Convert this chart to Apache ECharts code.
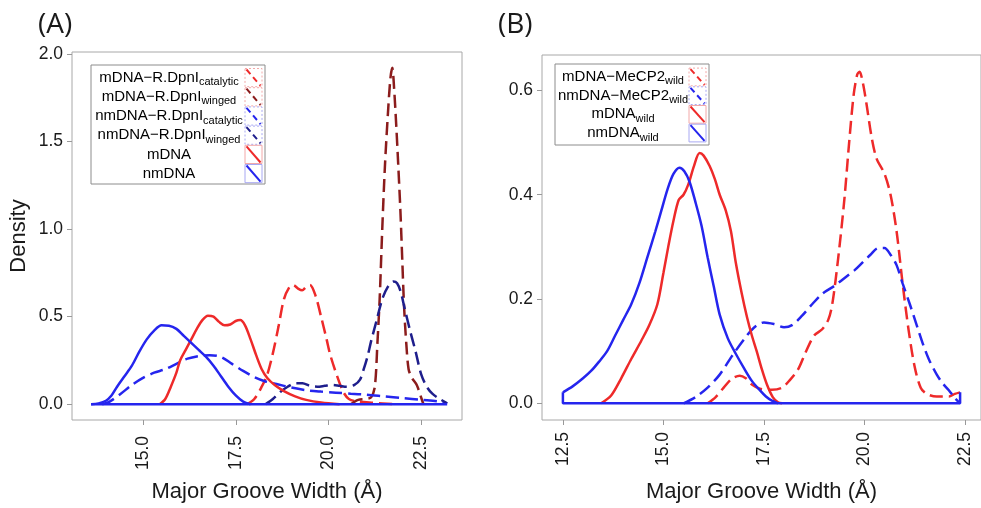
<!DOCTYPE html>
<html>
<head>
<meta charset="utf-8">
<title>Major groove width density</title>
<script src="https://cdn.jsdelivr.net/npm/echarts@6/dist/echarts.min.js"></script>
<style>
  html, body { margin: 0; padding: 0; background: #fff; }
  #chart { width: 981px; height: 508px; }
</style>
</head>
<body>
<div id="chart"></div>
<script>
// ---- panel A: DNA alone vs. R.DpnI complexes (x = groove width, y = density)
const aMdnaCat = [[17.8,0],[18.0,0.03],[18.2,0.1],[18.35,0.17],[18.5,0.29],[18.65,0.44],[18.8,0.6],[18.95,0.67],[19.05,0.68],[19.18,0.66],[19.29,0.65],[19.4,0.67],[19.5,0.68],[19.65,0.62],[19.8,0.5],[19.95,0.37],[20.05,0.28],[20.25,0.15],[20.4,0.07],[20.55,0.03],[20.8,0.015],[21.2,0.008],[21.8,0]];
const aMdnaWing = [[20.6,0],[20.8,0.025],[21.0,0.03],[21.15,0.04],[21.25,0.1],[21.32,0.35],[21.38,0.6],[21.45,1.0],[21.52,1.35],[21.6,1.65],[21.67,1.86],[21.72,1.92],[21.77,1.8],[21.83,1.58],[21.88,1.37],[21.94,1.1],[21.99,0.82],[22.04,0.55],[22.1,0.34],[22.16,0.2],[22.25,0.15],[22.38,0.11],[22.48,0.05],[22.56,0]];
const aNmdnaCat = [[13.9,0],[14.1,0.015],[14.4,0.06],[14.7,0.11],[15.0,0.15],[15.3,0.18],[15.6,0.2],[15.9,0.23],[16.2,0.26],[16.5,0.275],[16.8,0.28],[17.1,0.27],[17.4,0.23],[17.7,0.19],[18.0,0.155],[18.3,0.13],[18.6,0.115],[19.0,0.095],[19.4,0.08],[19.8,0.072],[20.2,0.066],[20.6,0.06],[21.0,0.055],[21.5,0.045],[22.0,0.035],[22.5,0.025],[23.0,0.015],[23.2,0.005]];
const aNmdnaWing = [[18.3,0],[18.5,0.03],[18.7,0.07],[18.9,0.1],[19.1,0.12],[19.3,0.12],[19.5,0.105],[19.7,0.1],[19.9,0.105],[20.1,0.11],[20.3,0.105],[20.5,0.1],[20.7,0.11],[20.85,0.14],[20.95,0.2],[21.05,0.27],[21.15,0.36],[21.3,0.48],[21.45,0.6],[21.6,0.67],[21.75,0.7],[21.85,0.69],[21.95,0.64],[22.05,0.55],[22.2,0.42],[22.35,0.3],[22.5,0.17],[22.65,0.1],[22.8,0.06],[23.0,0.03],[23.2,0.005]];
const aMdna = [[15.45,0],[15.6,0.03],[15.75,0.1],[15.9,0.18],[16.0,0.25],[16.15,0.31],[16.3,0.37],[16.45,0.43],[16.6,0.48],[16.75,0.505],[16.9,0.5],[17.05,0.47],[17.2,0.45],[17.35,0.455],[17.5,0.475],[17.62,0.48],[17.75,0.45],[17.9,0.37],[18.05,0.28],[18.2,0.2],[18.35,0.15],[18.55,0.11],[18.8,0.075],[19.1,0.045],[19.4,0.025],[19.8,0.01],[20.3,0]];
const aNmdna = [[13.6,0],[13.8,0.005],[14.0,0.02],[14.15,0.05],[14.3,0.1],[14.5,0.16],[14.7,0.22],[14.9,0.3],[15.1,0.37],[15.3,0.42],[15.5,0.45],[15.7,0.448],[15.9,0.43],[16.1,0.39],[16.3,0.35],[16.5,0.31],[16.7,0.27],[16.9,0.22],[17.1,0.16],[17.3,0.1],[17.5,0.05],[17.7,0.015],[17.9,0]];
const aBase = [[13.6,0],[23.2,0]];

// ---- panel B: DNA alone vs. MeCP2 complexes
const bMdnaMe = [[16.1,0],[16.3,0.012],[16.5,0.03],[16.7,0.047],[16.9,0.053],[17.05,0.048],[17.2,0.036],[17.4,0.028],[17.7,0.026],[17.95,0.03],[18.15,0.045],[18.35,0.065],[18.55,0.1],[18.75,0.13],[18.95,0.142],[19.1,0.16],[19.2,0.19],[19.35,0.28],[19.5,0.39],[19.62,0.5],[19.73,0.59],[19.82,0.63],[19.88,0.636],[19.96,0.615],[20.05,0.575],[20.18,0.51],[20.3,0.47],[20.5,0.44],[20.65,0.4],[20.8,0.33],[20.95,0.23],[21.1,0.14],[21.25,0.07],[21.4,0.03],[21.55,0.018],[21.8,0.013],[22.1,0.013],[22.25,0.018],[22.38,0.021]];
const bNmdnaMe = [[15.5,0],[15.8,0.012],[16.1,0.03],[16.4,0.055],[16.7,0.09],[17.0,0.122],[17.25,0.145],[17.5,0.155],[17.75,0.152],[18.0,0.146],[18.2,0.15],[18.45,0.168],[18.7,0.19],[18.95,0.21],[19.25,0.225],[19.5,0.24],[19.75,0.255],[19.95,0.27],[20.15,0.285],[20.35,0.298],[20.5,0.298],[20.65,0.285],[20.8,0.265],[20.95,0.23],[21.13,0.19],[21.3,0.15],[21.45,0.115],[21.6,0.085],[21.8,0.055],[21.95,0.038],[22.1,0.025],[22.25,0.01],[22.38,0]];
const bMdna = [[13.45,0],[13.7,0.015],[13.95,0.048],[14.2,0.085],[14.45,0.12],[14.65,0.15],[14.85,0.19],[15.0,0.25],[15.12,0.3],[15.25,0.35],[15.38,0.39],[15.5,0.4],[15.62,0.42],[15.76,0.455],[15.9,0.48],[16.0,0.475],[16.15,0.455],[16.28,0.43],[16.4,0.4],[16.55,0.37],[16.68,0.33],[16.8,0.27],[16.95,0.21],[17.08,0.165],[17.2,0.13],[17.32,0.1],[17.45,0.065],[17.58,0.035],[17.72,0.012],[17.85,0.002],[17.95,0]];
const bNmdna = [[12.5,0.021],[12.75,0.033],[13.0,0.048],[13.2,0.062],[13.4,0.08],[13.6,0.1],[13.8,0.13],[14.0,0.16],[14.2,0.19],[14.4,0.23],[14.6,0.28],[14.8,0.33],[14.95,0.37],[15.1,0.41],[15.25,0.44],[15.4,0.452],[15.52,0.445],[15.65,0.425],[15.8,0.385],[15.95,0.34],[16.1,0.28],[16.25,0.225],[16.4,0.17],[16.6,0.125],[16.8,0.095],[17.0,0.068],[17.2,0.043],[17.4,0.025],[17.55,0.013],[17.7,0.005],[17.85,0]];
const bBase = [[12.5,0.021],[12.5,0],[22.38,0],[22.38,0.021]];

// tick values
const aTicksX = [15, 17.5, 20, 22.5];
const aTicksY = [0, 0.5, 1, 1.5, 2];
const bTicksX = [12.5, 15, 17.5, 20, 22.5];
const bTicksY = [0, 0.2, 0.4, 0.6];

// legend labels: [main, subscript]
const aLabels = [['mDNA−R.DpnI', 'catalytic'], ['mDNA−R.DpnI', 'winged'], ['nmDNA−R.DpnI', 'catalytic'],
  ['nmDNA−R.DpnI', 'winged'], ['mDNA', ''], ['nmDNA', '']];
const bLabels = [['mDNA−MeCP2', 'wild'], ['nmDNA−MeCP2', 'wild'], ['mDNA', 'wild'], ['nmDNA', 'wild']];

const RED = '#ee2a2a', BLUE = '#2525ee', DRED = '#8b1c1c', DBLUE = '#1e1e8c';
const FONT = '"Liberation Sans", Arial, sans-serif';
const TXT = '#1a1a1a';

const panelA = [
  { data: aMdnaCat, color: RED, dashed: true },
  { data: aMdnaWing, color: DRED, dashed: true },
  { data: aNmdnaCat, color: BLUE, dashed: true },
  { data: aNmdnaWing, color: DBLUE, dashed: true },
  { data: aMdna, color: RED, dashed: false },
  { data: aNmdna, color: BLUE, dashed: false }
];
const panelB = [
  { data: bMdnaMe, color: RED, dashed: true },
  { data: bNmdnaMe, color: BLUE, dashed: true },
  { data: bMdna, color: RED, dashed: false },
  { data: bNmdna, color: BLUE, dashed: false }
];

function curve(p, idx) {
  return {
    type: 'line', xAxisIndex: idx, yAxisIndex: idx, data: p.data,
    smooth: 0.3, symbol: 'none', silent: true,
    lineStyle: { color: p.color, width: 2.5, type: p.dashed ? [13, 6] : 'solid' }
  };
}

function xAxisOf(idx, min, max, ticks, margin) {
  return {
    type: 'value', gridIndex: idx, min, max,
    axisLine: { show: false, onZero: false },
    axisTick: { show: true, length: 5, customValues: ticks, lineStyle: { color: '#999' } },
    axisLabel: { customValues: ticks, rotate: 90, margin, fontSize: 17.5, color: TXT, fontFamily: FONT,
      formatter: v => v.toFixed(1) },
    splitLine: { show: false },
    name: 'Major Groove Width (Å)', nameLocation: 'middle', nameGap: 61,
    nameTextStyle: { fontSize: 22, color: TXT, fontFamily: FONT }
  };
}

function yAxisOf(idx, min, max, ticks, name) {
  return {
    type: 'value', gridIndex: idx, min, max,
    axisLine: { show: false, onZero: false },
    axisTick: { show: true, length: 5, customValues: ticks, lineStyle: { color: '#999' } },
    axisLabel: { customValues: ticks, margin: 9, fontSize: 17.5, color: TXT, fontFamily: FONT,
      formatter: v => v.toFixed(1) },
    splitLine: { show: false },
    name, nameLocation: 'middle', nameGap: 42,
    nameTextStyle: { fontSize: 22, color: TXT, fontFamily: FONT }
  };
}

function legendBox(x, y, width, height, rowTop, rowH, textCx, keyX, labels, styles) {
  const children = [{
    type: 'rect', shape: { x: 0, y: 0, width, height },
    style: { fill: '#fff', stroke: '#8c8c8c', lineWidth: 1 }
  }];
  labels.forEach((lab, i) => {
    const st = styles[i];
    const top = rowTop + i * rowH;
    children.push({
      type: 'text',
      style: {
        x: textCx, y: top + rowH / 2,
        text: lab[1] ? '{m|' + lab[0] + '}{s|' + lab[1] + '}' : '{m|' + lab[0] + '}',
        align: 'center', verticalAlign: 'middle',
        rich: {
          m: { fontSize: 15, fontFamily: FONT, color: TXT, lineHeight: 20 },
          s: { fontSize: 11, fontFamily: FONT, color: TXT, lineHeight: 14, verticalAlign: 'bottom' }
        }
      }
    });
    children.push({
      type: 'rect', shape: { x: keyX, y: top + 0.5, width: 17, height: rowH - 1 },
      style: { fill: 'none', stroke: st.color === RED || st.color === DRED ? '#f2a8a8' : '#a8a8f2',
        lineWidth: 1, lineDash: st.dashed ? [2, 2] : null }
    });
    children.push({
      type: 'line', shape: { x1: keyX + 1.5, y1: top + 1.5, x2: keyX + 15.5, y2: top + rowH - 1.5 },
      style: { stroke: st.color, lineWidth: 2, lineDash: st.dashed ? [6, 4] : null }
    });
  });
  return { type: 'group', x, y, children };
}

const chart = echarts.init(document.getElementById('chart'), null, { renderer: 'canvas' });
chart.setOption({
  animation: false,
  backgroundColor: '#fff',
  title: [
    { text: '(A)', left: 33, top: 6, textStyle: { fontSize: 28, fontWeight: 'normal', color: TXT, fontFamily: '"Open Sans", sans-serif' } },
    { text: '(B)', left: 493, top: 6, textStyle: { fontSize: 28, fontWeight: 'normal', color: TXT, fontFamily: '"Open Sans", sans-serif' } }
  ],
  grid: [
    { left: 72, top: 52, width: 390, height: 371, show: true, borderColor: '#a8a8a8', borderWidth: 1 },
    { left: 542, top: 55, right: -9, bottom: 87, show: true, borderColor: '#a8a8a8', borderWidth: 1 }
  ],
  xAxis: [xAxisOf(0, 13.085, 23.6, aTicksX, 16), xAxisOf(1, 11.98, 22.9, bTicksX, 12)],
  yAxis: [yAxisOf(0, -0.09, 2.01, aTicksY, 'Density'), yAxisOf(1, -0.032, 0.668, bTicksY, '')],
  series: [
    ...panelA.map(p => curve(p, 0)),
    { type: 'line', xAxisIndex: 0, yAxisIndex: 0, data: aBase, symbol: 'none', silent: true,
      lineStyle: { color: BLUE, width: 2.5 } },
    ...panelB.map(p => curve(p, 1)),
    { type: 'line', xAxisIndex: 1, yAxisIndex: 1, data: bBase, symbol: 'none', silent: true,
      lineStyle: { color: BLUE, width: 2.5 } }
  ],
  graphic: { elements: [
    legendBox(91, 65, 174, 119, 3, 19.2, 78, 154, aLabels, panelA),
    legendBox(555, 64, 154, 81, 3.6, 18.7, 68, 134, bLabels, panelB)
  ] }
});
</script>
</body>
</html>
